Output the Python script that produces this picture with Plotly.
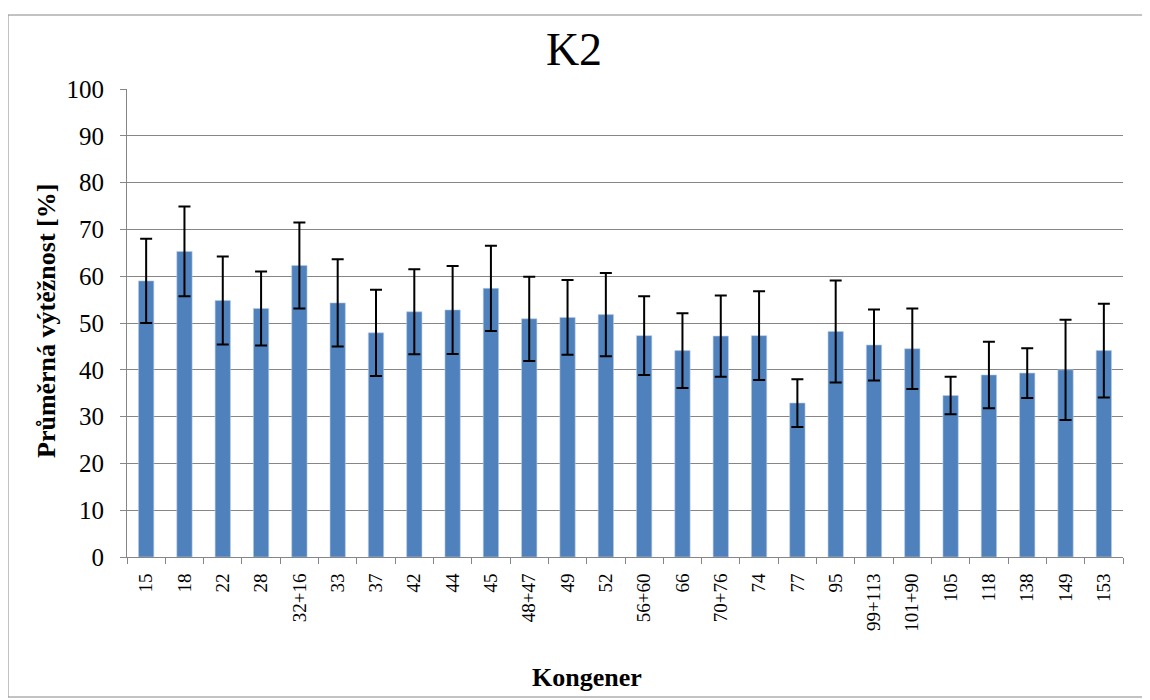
import plotly.graph_objects as go

categories = ["15", "18", "22", "28", "32+16", "33", "37", "42", "44", "45", "48+47", "49", "52",
              "56+60", "66", "70+76", "74", "77", "95", "99+113", "101+90", "105", "118", "138", "149", "153"]
values = [59.0, 65.3, 54.8, 53.1, 62.3, 54.3, 47.9, 52.4, 52.8, 57.4, 50.9, 51.2, 51.8,
          47.3, 44.1, 47.2, 47.3, 32.9, 48.2, 45.3, 44.5, 34.5, 38.9, 39.3, 40.0, 44.1]
errors = [9.0, 9.6, 9.4, 7.9, 9.2, 9.3, 9.2, 9.1, 9.4, 9.1, 9.0, 8.0, 8.9,
          8.4, 8.0, 8.7, 9.5, 5.1, 10.9, 7.6, 8.6, 4.0, 7.1, 5.3, 10.7, 10.0]
y_ticks = [0, 10, 20, 30, 40, 50, 60, 70, 80, 90, 100]

FONT = "Liberation Serif"

# page offset of the figure (browser body margin)
OFF = 8
W, H = 1142, 692
L, R, T, B = 119, 27, 81, 143
pw, ph = W - L - R, H - T - B


def px(xpage):
    return (xpage - OFF - L) / pw


def py(ypage):
    return (H - B - (ypage - OFF)) / ph


fig = go.Figure()
fig.add_trace(go.Bar(
    x=categories, y=values,
    marker=dict(color="#4F81BD", line=dict(color="#B9CDE5", width=0.6)),
    error_y=dict(type="data", array=errors, visible=True, color="black", thickness=2, width=6),
))

fig.update_layout(
    width=W, height=H,
    margin=dict(l=L, r=R, t=T, b=B, pad=0),
    paper_bgcolor="white", plot_bgcolor="white",
    bargap=0.6,
    showlegend=False,
    font=dict(family=FONT, color="black"),
    title=dict(text="K2", x=(574 - OFF) / W, xanchor="center",
               y=1 - (49 - OFF) / H, yanchor="middle", yref="container",
               font=dict(family=FONT, size=46, color="black")),
    xaxis=dict(
        type="category", showgrid=False, showline=True, linecolor="#868686", linewidth=1,
        ticks="outside", tickson="boundaries", ticklen=6, tickcolor="#868686",
        tickangle=-90, tickfont=dict(family=FONT, size=19, color="black"),
        range=[-0.5, len(categories) - 0.5], ticklabelstandoff=8,
    ),
    yaxis=dict(
        range=[0, 100], tickvals=y_ticks, showgrid=True, gridcolor="#868686", gridwidth=1,
        showline=True, linecolor="#868686", linewidth=1,
        ticks="outside", ticklen=6, tickcolor="#868686",
        tickfont=dict(family=FONT, size=25, color="black"), zeroline=False,
        ticklabelstandoff=11,
    ),
    shapes=[dict(type="rect", xref="paper", yref="paper",
                 x0=px(8), x1=px(1148), y0=py(697), y1=py(15),
                 line=dict(color="#868686", width=1), fillcolor="rgba(0,0,0,0)", layer="below")],
    annotations=[
        dict(text="<b>Kongener</b>", xref="paper", yref="paper", x=px(587), y=py(677),
             xanchor="center", yanchor="middle", showarrow=False,
             font=dict(family=FONT, size=26, color="black")),
        dict(text="<b>Průměrná výtěžnost [%]</b>", xref="paper", yref="paper", x=px(46), y=py(321),
             xanchor="center", yanchor="middle", textangle=-90, showarrow=False,
             font=dict(family=FONT, size=26, color="black")),
    ],
)

fig.write_html("out.html")
